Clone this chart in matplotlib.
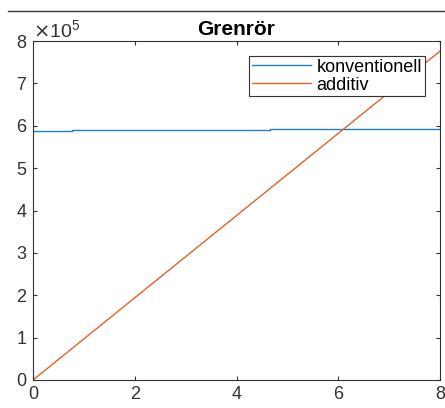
import matplotlib as mpl
mpl.use('Agg')
import matplotlib.pyplot as plt
from matplotlib.lines import Line2D
from matplotlib.ticker import ScalarFormatter

# konventionell: step values over x
konv_x = [0, 0.77, 0.77, 4.66, 4.66, 8]
konv_y = [5.87e5, 5.87e5, 5.89e5, 5.89e5, 5.93e5, 5.93e5]
# additiv: linear growth
add_x = [0, 2, 4, 6, 8]
add_y = [0, 1.94e5, 3.88e5, 5.82e5, 7.76e5]

plt.rcParams['font.family'] = ['Liberation Sans', 'DejaVu Sans']

fig = plt.figure(figsize=(4.45, 4.08), dpi=100)
ax = fig.add_axes([33 / 445, 28 / 408, 407 / 445, 339 / 408])

ax.plot(konv_x, konv_y, color='#1f80c8', linewidth=1, label='konventionell')
ax.plot(add_x, add_y, color='#e0622a', linewidth=1, label='additiv')

ax.set_xlim(0, 8)
ax.set_ylim(0, 8e5)
ax.set_xticks([0, 2, 4, 6, 8])
ax.set_yticks([i * 1e5 for i in range(9)])
fmt = ScalarFormatter(useMathText=True)
fmt.set_powerlimits((0, 0))
ax.yaxis.set_major_formatter(fmt)
ax.yaxis.get_offset_text().set_fontsize(14)
ax.yaxis.get_offset_text().set_color('#333333')
ax.tick_params(direction='in', top=True, right=True, labelsize=13,
               length=3, width=0.8, colors='#333333', pad=4)
for s in ax.spines.values():
    s.set_color('#333333')
    s.set_linewidth(0.8)

ax.set_title('Grenrör', fontsize=15, fontweight='bold', pad=4)

leg = ax.legend(loc='upper right', fontsize=13, frameon=True, fancybox=False,
                borderpad=0.15, labelspacing=0.05, handlelength=3.3,
                handletextpad=0.3, borderaxespad=0, framealpha=1,
                bbox_to_anchor=(0.963, 0.956))
leg.get_frame().set_edgecolor('#333333')
leg.get_frame().set_linewidth(0.8)

fig.add_artist(Line2D([8 / 445, 1], [1 - 11 / 408, 1 - 11 / 408],
                      color='#333333', linewidth=1, transform=fig.transFigure))

fig.savefig('out.png', dpi=100)
